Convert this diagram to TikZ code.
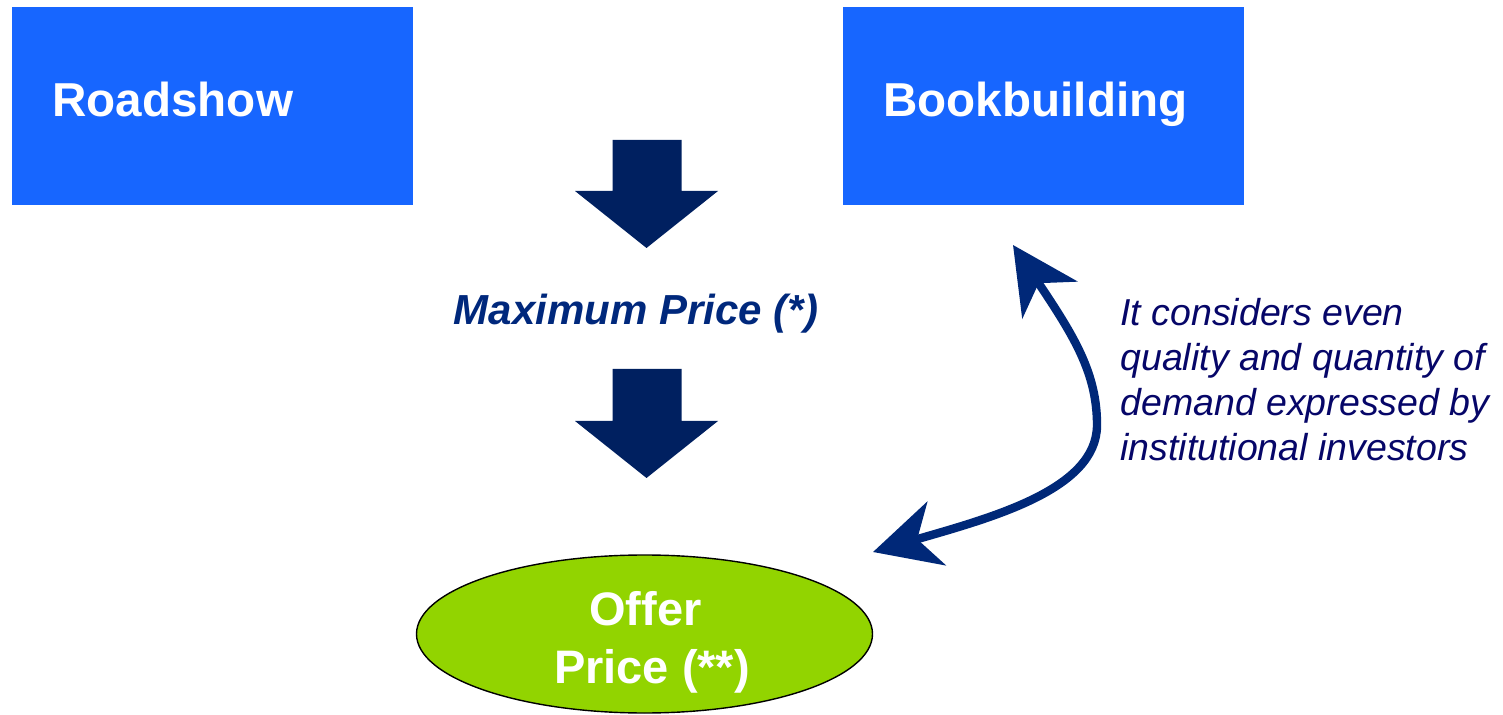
\documentclass[tikz,border=0pt]{standalone}
\usepackage{fontspec}
\setmainfont{Liberation Sans}
\usetikzlibrary{arrows.meta,shapes.geometric}
\definecolor{boxblue}{HTML}{1766FF}
\definecolor{arrnavy}{HTML}{002060}
\definecolor{txtnavy}{HTML}{00287C}
\definecolor{sidenavy}{HTML}{060668}
\definecolor{curvenavy}{HTML}{002878}
\definecolor{offergreen}{HTML}{92D400}
\tikzset{
  bluebox/.style={fill=boxblue, draw=none, minimum width=200.5pt, minimum height=99pt, inner sep=0pt},
  boxlabel/.style={text=white, font=\fontsize{23.8}{28}\selectfont\bfseries, inner sep=0pt},
  blockarrow/.style={fill=arrnavy, draw=none},
  midlabel/.style={text=txtnavy, font=\fontsize{21}{25}\selectfont\bfseries\itshape, inner sep=0pt},
  sidelabel/.style={text=sidenavy, font=\fontsize{18.75}{22.35}\selectfont\itshape, align=left, inner sep=0pt},
  offer/.style={ellipse, fill=offergreen, draw=black, line width=0.7pt, minimum width=228pt, minimum height=79pt, inner sep=0pt},
  offertext/.style={text=white, font=\fontsize{23.5}{29}\selectfont\bfseries, align=center, inner sep=0pt},
  curvearrow/.style={draw=curvenavy, line width=4.2pt,
     {Stealth[length=33pt,width=33pt,inset=10pt]}-{Stealth[length=33pt,width=33pt,inset=10pt]}}
}
\begin{document}
\begin{tikzpicture}[x=0.5pt,y=-0.5pt]
\useasboundingbox (0,0) rectangle (1503,715);
% boxes
\node[bluebox] (road) at (212.5,106) {};
\node[boxlabel, anchor=base west] (roadt) at (52,117) {Roadshow};
\node[bluebox] (book) at (1043.5,106) {};
\node[boxlabel, anchor=base west] (bookt) at (883,117) {Bookbuilding};
% block arrows
\fill[blockarrow] (612.5,140) -- (681.5,140) -- (681.5,191) -- (718,191) -- (646.5,248) -- (575,191) -- (612.5,191) -- cycle;
\fill[blockarrow] (612.5,369) -- (681.5,369) -- (681.5,421) -- (718,421) -- (646.5,478) -- (575,421) -- (612.5,421) -- cycle;
% maximum price
\node[midlabel, anchor=base] (maxp) at (636,325) {Maximum Price (*)};
% offer price
\node[offer] (offerp) at (644.5,634) {};
\node[offertext, anchor=base] (offert) at (652,683) {Offer\hspace*{0.278em}\\Price (**)};
% side text
\node[sidelabel, anchor=base west] (side) at (1120,460) {It considers even\\quality and quantity of\\demand expressed by\\institutional investors};
% curved double arrow
\coordinate (lo) at (873,552);
\coordinate (bend) at (1097,425);
\coordinate (hi) at (1013,245);
\draw[curvearrow] (lo) .. controls (990,518) and (1097,490) .. (bend) .. controls (1097,373) and (1074,336) .. (hi);
\end{tikzpicture}
\end{document}
